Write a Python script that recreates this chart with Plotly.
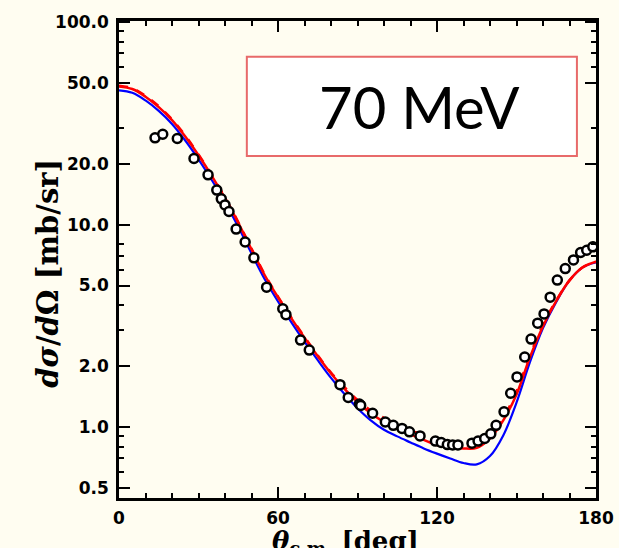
import plotly.graph_objects as go

# ---- data ----
theta_curve = [0, 5, 10, 15, 20, 25, 30, 35, 40, 45, 50, 55, 60, 65, 70, 75, 80, 85, 90,
               95, 100, 105, 110, 115, 120, 125, 130, 135, 140, 145, 150, 155, 160, 165,
               170, 175, 180]
red_solid = [48.1, 46.7, 42.8, 38.0, 32.8, 27.2, 22.0, 17.4, 13.5, 10.2, 7.55, 5.62, 4.37, 3.45,
             2.76, 2.24, 1.84, 1.55, 1.33, 1.17, 1.06, 0.98, 0.92, 0.865, 0.815, 0.795, 0.785,
             0.79, 0.88, 1.08, 1.45, 2.2, 3.15, 4.2, 5.3, 6.15, 6.55]
red_dashed = [48.5, 47.1, 43.2, 38.4, 33.1, 27.5, 22.2, 17.6, 13.6, 10.3, 7.62, 5.67, 4.41, 3.48,
              2.79, 2.26, 1.86, 1.58, 1.36, 1.21, 1.11, 1.03, 0.965, 0.915, 0.87, 0.84, 0.815,
              0.81, 0.905, 1.11, 1.5, 2.25, 3.2, 4.22, 5.3, 6.15, 6.55]
blue_solid = [46.0, 44.7, 41.0, 36.4, 31.4, 26.0, 21.0, 16.6, 12.9, 9.75, 7.2, 5.37, 4.17, 3.3,
              2.64, 2.14, 1.75, 1.46, 1.24, 1.08, 0.97, 0.90, 0.84, 0.785, 0.74, 0.70, 0.665,
              0.655, 0.72, 0.91, 1.32, 2.08, 3.08, 4.15, 5.3, 6.15, 6.5]

theta_data = [13.6, 16.5, 22.0, 28.3, 33.6, 36.9, 38.6, 40.0, 41.5, 44.2, 47.6, 50.9, 55.7,
              61.8, 63.0, 68.5, 71.8, 83.4, 86.5, 90.7, 91.2, 95.7, 100.5, 103.5, 106.8, 109.6,
              113.6, 119.4, 121.6, 123.9, 125.9, 127.9, 133.2, 135.5, 138.0, 140.3, 142.3,
              145.3, 147.8, 150.2, 153.1, 155.5, 158.0, 160.4, 162.7, 165.4, 168.4, 171.5,
              174.2, 176.5, 178.8]
xs_data = [26.8, 27.9, 26.6, 21.2, 17.6, 14.8, 13.4, 12.5, 11.6, 9.5, 8.2, 6.85, 4.91,
           3.84, 3.59, 2.69, 2.40, 1.62, 1.40, 1.30, 1.28, 1.17, 1.06, 1.02, 0.985, 0.948,
           0.905, 0.853, 0.839, 0.820, 0.817, 0.817, 0.833, 0.853, 0.879, 0.926, 1.02,
           1.19, 1.47, 1.77, 2.22, 2.72, 3.26, 3.62, 4.38, 5.32, 6.06, 6.69,
           7.28, 7.47, 7.76]

x_ticks = [0, 60, 120, 180]
x_minor = [10, 20, 30, 40, 50, 70, 80, 90, 100, 110, 130, 140, 150, 160, 170]
y_ticks = [0.5, 1.0, 2.0, 5.0, 10.0, 20.0, 50.0, 100.0]
y_ticklabels = ["0.5", "1.0", "2.0", "5.0", "10.0", "20.0", "50.0", "100.0"]
y_minor = [0.6, 0.7, 0.8, 0.9, 3, 4, 6, 7, 8, 30, 60, 70, 80, 90]
label_text = "70 MeV"

BG = "#FFFDF1"

fig = go.Figure()
fig.add_trace(go.Scatter(x=theta_curve, y=blue_solid, mode="lines", line_shape="spline",
                         line=dict(color="#0000FF", width=2.2), showlegend=False))
fig.add_trace(go.Scatter(x=theta_curve, y=red_dashed, mode="lines", line_shape="spline",
                         line=dict(color="#FF0000", width=2.5, dash="dash"), showlegend=False))
fig.add_trace(go.Scatter(x=theta_curve, y=red_solid, mode="lines", line_shape="spline",
                         line=dict(color="#FF0000", width=2.5), showlegend=False))
fig.add_trace(go.Scatter(x=theta_data, y=xs_data, mode="markers",
                         marker=dict(symbol="circle", size=9, color="white",
                                     line=dict(color="black", width=2.5)),
                         showlegend=False))

tickfont = dict(family="DejaVu Sans", size=17, color="black", weight="bold")

fig.update_xaxes(range=[0, 180], tickmode="array", tickvals=x_ticks,
                 ticktext=[str(v) for v in x_ticks], automargin=False,
                 ticks="inside", ticklen=11, tickwidth=2, tickcolor="black",
                 showline=True, linewidth=2.5, linecolor="black", mirror="allticks",
                 showgrid=False, zeroline=False, tickfont=tickfont,
                 ticklabelstandoff=3,
                 minor=dict(tickvals=x_minor, ticks="inside", ticklen=5, tickwidth=2,
                            tickcolor="black", showgrid=False))
fig.update_yaxes(type="log", range=[-0.35, 2.005], tickmode="array", tickvals=y_ticks,
                 ticktext=y_ticklabels, automargin=False,
                 ticks="inside", ticklen=11, tickwidth=2, tickcolor="black",
                 showline=True, linewidth=2.5, linecolor="black", mirror="allticks",
                 showgrid=False, zeroline=False, tickfont=tickfont,
                 ticklabelstandoff=4,
                 minor=dict(tickvals=y_minor, ticks="inside", ticklen=5, tickwidth=2,
                            tickcolor="black", showgrid=False))

# label box
fig.add_shape(type="rect", xref="paper", yref="paper", x0=0.268, x1=0.960, y0=0.717, y1=0.925,
              fillcolor="white", line=dict(color="#E86A6A", width=2), layer="above")
fig.add_annotation(xref="paper", yref="paper", x=0.631, y=0.821, text=label_text,
                   showarrow=False, font=dict(family="Lato", size=58, color="black"),
                   xanchor="center", yanchor="middle")

# axis titles
fig.add_annotation(xref="paper", yref="paper", x=-0.149, y=0.472,
                   text="<b><i>dσ</i>/<i>d</i>Ω [mb/sr]</b>", textangle=-90, showarrow=False,
                   font=dict(family="DejaVu Serif", size=29, color="black"),
                   xanchor="center", yanchor="middle")
fig.add_annotation(xref="paper", yref="paper", x=0.474, y=-0.055,
                   text="<b><i>θ</i><sub>c.m.</sub> [deg]</b>", showarrow=False,
                   font=dict(family="DejaVu Serif", size=26, color="black"),
                   xanchor="center", yanchor="top")

fig.update_layout(width=619, height=548, margin=dict(l=119, r=23, t=21, b=50),
                  paper_bgcolor=BG, plot_bgcolor=BG)

fig.write_html("out.html")
